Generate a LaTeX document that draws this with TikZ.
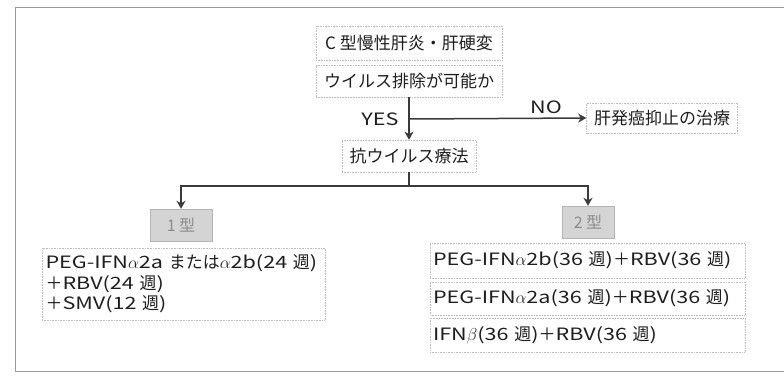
\documentclass[tikz,border=0pt]{standalone}
\usepackage{fontspec}
\setmainfont{Noto Sans CJK JP}
\newfontfamily\widefont[FakeStretch=1.27]{Noto Sans CJK JP}
\newfontfamily\jpfont{Noto Sans CJK JP}
\newcommand{\J}[1]{{\jpfont #1}}
\usetikzlibrary{arrows.meta}
\definecolor{linec}{HTML}{3A3A3A}
\definecolor{boxc}{HTML}{BDBDBD}
\definecolor{framec}{HTML}{9A9A9A}
\definecolor{typefill}{HTML}{D4D4D4}
\definecolor{typetext}{HTML}{8C8C8C}
\definecolor{textc}{HTML}{1E1E1E}
\begin{document}
\begin{tikzpicture}[x=1pt,y=-1pt,
  tbox/.style={draw=boxc, densely dotted, line width=0.6pt, inner sep=0pt, text=textc,
    font=\fontsize{17}{19}\selectfont},
  wbox/.style={tbox, font=\widefont\fontsize{17}{19}\selectfont},
  typebox/.style={fill=typefill, draw=typefill!85!black, line width=0.4pt, inner sep=0pt,
    text=typetext, font=\fontsize{16}{18}\selectfont},
  lbl/.style={inner sep=0pt, text=textc, font=\widefont\fontsize{17}{19}\selectfont},
  conn/.style={draw=linec, line width=1.5pt},
  arr/.style={conn, -{Stealth[length=8pt,width=9pt,inset=2.5pt]}}
]
\useasboundingbox (0,0) rectangle (784,378);
\draw[framec, line width=0.8pt] (784,7) -- (15,7) -- (15,371) -- (784,371);

\node[tbox, minimum width=186pt, minimum height=34pt] (c1) at (409,43) {C 型慢性肝炎・肝硬変};
\node[tbox, minimum width=186pt, minimum height=32pt] (c2) at (409,81) {ウイルス排除が可能か};
\node[tbox, minimum width=134pt, minimum height=32pt] (anti) at (409,156) {抗ウイルス療法};
\node[tbox, minimum width=151pt, minimum height=30pt] (liver) at (662,118) {肝発癌抑止の治療};
\node[lbl] (yes) at (380,119) {YES};
\node[lbl] (no) at (546,107) {NO};

\node[typebox, minimum width=62pt, minimum height=32pt] (t1) at (181,225) {1 型};
\node[typebox, minimum width=52pt, minimum height=32pt] (t2) at (588,222) {2 型};

\node[wbox, minimum width=283pt, minimum height=72pt, text width=276pt, align=left,
  font=\widefont\fontsize{17}{20.5}\selectfont] (L) at (183.5,284)
  {PEG-IFN$\alpha$2a \J{または}$\alpha$2b(24 \J{週})\\\J{＋}RBV(24 \J{週})\\\J{＋}SMV(12 \J{週})};

\node[wbox, minimum width=315pt, minimum height=35pt, text width=309pt, align=left] (R1) at (587.5,260.5)
  {PEG-IFN$\alpha$2b(36 \J{週})\J{＋}RBV(36 \J{週})};
\node[wbox, minimum width=315pt, minimum height=33pt, text width=309pt, align=left] (R2) at (587.5,298.5)
  {PEG-IFN$\alpha$2a(36 \J{週})\J{＋}RBV(36 \J{週})};
\node[wbox, minimum width=315pt, minimum height=34pt, text width=309pt, align=left] (R3) at (587.5,335)
  {IFN$\beta$(36 \J{週})\J{＋}RBV(36 \J{週})};

\coordinate (split) at (409,119);
\coordinate (hub) at (409,186);
\draw[arr] (c2.south) -- (anti.north);
\draw[arr] (split) -- (liver.west);
\draw[conn] (anti.south) -- (hub);
\draw[arr] (hub) -| (t1.north);
\draw[arr] (hub) -| (t2.north);
\end{tikzpicture}
\end{document}
